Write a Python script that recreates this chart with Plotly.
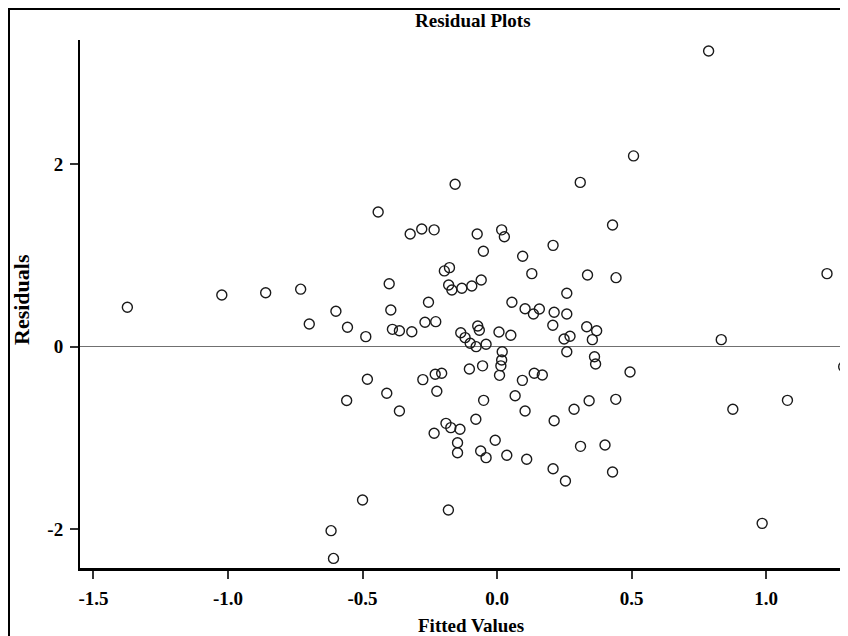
import plotly.graph_objects as go

# Data
fitted = [
    -1.374, -1.023, -0.86, -0.73, -0.442, -0.156, 0.309, -0.323, -0.28, -0.234,
    -0.074, 0.017, 0.027, 0.429, -0.051, 0.208, 0.095, -0.401, -0.196, -0.177,
    0.129, 0.336, 0.442, -0.18, -0.168, -0.131, -0.094, -0.059, 0.259, 0.786,
    0.507, 1.226, -0.599, -0.698, -0.556, -0.488, -0.482, -0.559, -0.5, -0.617,
    -0.608, -0.395, -0.255, 0.055, 0.104, 0.135, 0.157, 0.212, 0.259, 0.207,
    -0.389, -0.363, -0.317, -0.268, -0.228, -0.135, -0.119, -0.1, -0.078, -0.041,
    -0.072, -0.066, 0.007, 0.051, 0.249, 0.271, 0.333, 0.37, 0.354, 0.259,
    0.362, 0.366, 0.019, 0.017, 0.014, 0.009, -0.054, -0.103, -0.23, -0.206,
    -0.276, 0.094, 0.138, 0.168, -0.41, -0.224, -0.363, -0.05, 0.067, 0.104,
    0.212, 0.286, 0.342, 0.441, -0.079, -0.19, -0.172, -0.138, -0.234, -0.007,
    -0.147, -0.147, -0.061, -0.041, 0.036, 0.11, 0.208, 0.254, 0.31, 0.401,
    0.429, -0.181, 0.833, 0.494, 0.876, 1.079, 0.985, 1.288, 1.297,
]
residuals = [
    0.432, 0.566, 0.59, 0.63, 1.476, 1.78, 1.80, 1.235, 1.29, 1.28,
    1.235, 1.28, 1.205, 1.333, 1.045, 1.11, 0.99, 0.69, 0.83, 0.866,
    0.80, 0.786, 0.756, 0.676, 0.621, 0.64, 0.665, 0.73, 0.585, 3.24,
    2.09, 0.80, 0.388, 0.249, 0.213, 0.11, -0.357, -0.59, -1.68, -2.016,
    -2.32, 0.402, 0.486, 0.486, 0.416, 0.358, 0.413, 0.377, 0.358, 0.234,
    0.19, 0.175, 0.164, 0.267, 0.274, 0.153, 0.099, 0.037, 0.0, 0.026,
    0.227, 0.18, 0.161, 0.125, 0.084, 0.114, 0.219, 0.175, 0.077, -0.055,
    -0.11, -0.19, -0.055, -0.146, -0.21, -0.314, -0.21, -0.245, -0.303, -0.292,
    -0.361, -0.369, -0.292, -0.31, -0.511, -0.489, -0.705, -0.588, -0.537, -0.705,
    -0.811, -0.686, -0.592, -0.577, -0.796, -0.84, -0.887, -0.905, -0.949, -1.026,
    -1.052, -1.162, -1.143, -1.216, -1.19, -1.234, -1.337, -1.472, -1.092, -1.077,
    -1.373, -1.79, 0.077, -0.277, -0.686, -0.588, -1.936, -0.219, -0.329,
]

x_tickvals = [-1.5, -1.0, -0.5, 0.0, 0.5, 1.0]
x_ticktext = ["-1.5", "-1.0", "-0.5", "0.0", "0.5", "1.0"]
y_tickvals = [-2, 0, 2]
y_ticktext = ["-2", "0", "2"]

title_text = "Residual Plots"
x_title = "Fitted Values"
y_title = "Residuals"

FONT = "Liberation Serif"
# The page body has an 8px margin, so the figure is drawn 8px in from the
# top-left of the window; size it to fill the rest of the 848x636 window.
OFF = 8
W, H = 848 - OFF, 636 - OFF
ML, MR, MT, MB = 80 - OFF, 0, 40 - OFF, H - (568 - OFF)
PW, PH = W - ML - MR, H - MT - MB


def px_x(p):
    """window pixel -> paper x"""
    return (p - OFF - ML) / PW


def px_y(p):
    """window pixel -> paper y"""
    return (H - MB - (p - OFF)) / PH


fig = go.Figure()
fig.add_trace(go.Scatter(
    x=fitted, y=residuals, mode="markers",
    marker=dict(symbol="circle-open", size=10, color="#1a1a1a",
                line=dict(width=1.4, color="#1a1a1a")),
    showlegend=False, hoverinfo="x+y", cliponaxis=True,
))

fig.update_layout(
    width=W, height=H,
    margin=dict(l=ML, r=MR, t=MT, b=MB, pad=0),
    paper_bgcolor="white", plot_bgcolor="white",
    font=dict(family=FONT, color="black"),
    xaxis=dict(
        range=[-1.550, 1.304], tickvals=x_tickvals, ticktext=x_ticktext,
        showgrid=False, zeroline=False, showline=True, linecolor="black",
        linewidth=2.5, ticks="outside", ticklen=8, tickwidth=1.5,
        tickcolor="#333", tickfont=dict(family=FONT, size=19, weight="bold"),
        ticklabelstandoff=3,
    ),
    yaxis=dict(
        range=[-2.425, 3.36], tickvals=y_tickvals, ticktext=y_ticktext,
        showgrid=False, zeroline=True, zerolinecolor="#707070",
        zerolinewidth=1.4, showline=True, linecolor="black", linewidth=2,
        ticks="outside", ticklen=8, tickwidth=1.5, tickcolor="#333",
        tickfont=dict(family=FONT, size=19, weight="bold"),
        ticklabelstandoff=3,
    ),
    shapes=[dict(
        type="rect", xref="paper", yref="paper",
        x0=px_x(9), x1=px_x(900), y0=px_y(700), y1=px_y(9),
        line=dict(color="black", width=2), fillcolor="rgba(0,0,0,0)",
        layer="below",
    )],
    annotations=[
        dict(text="<b>%s</b>" % title_text, xref="paper", yref="paper",
             x=px_x(473), y=px_y(20), xanchor="center", yanchor="middle",
             showarrow=False, font=dict(family=FONT, size=19)),
        dict(text="<b>%s</b>" % x_title, xref="paper", yref="paper",
             x=px_x(471), y=px_y(625), xanchor="center", yanchor="middle",
             showarrow=False, font=dict(family=FONT, size=19)),
        dict(text="<b>%s</b>" % y_title, xref="paper", yref="paper",
             x=px_x(21), y=px_y(300), xanchor="center", yanchor="middle",
             textangle=-90, showarrow=False, font=dict(family=FONT, size=22)),
    ],
)

fig.write_html("out.html")
